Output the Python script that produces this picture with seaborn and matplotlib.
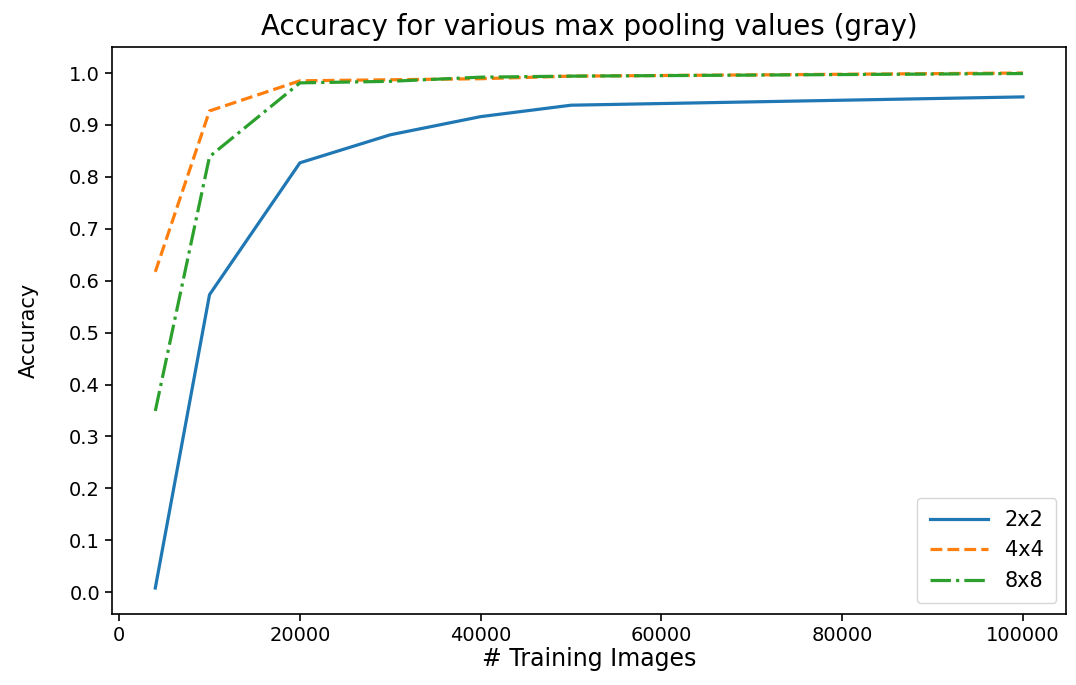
import matplotlib
matplotlib.use("Agg")
from matplotlib import pyplot as plt
import pandas as pd
import seaborn as sns

# training set sizes
n_images = [4000, 10000, 20000, 30000, 40000, 50000, 100000]

# accuracy per pooling size
acc_2x2 = [0.008, 0.573, 0.827, 0.881, 0.916, 0.938, 0.954]
acc_4x4 = [0.617, 0.927, 0.985, 0.987, 0.989, 0.994, 1.000]
acc_8x8 = [0.349, 0.839, 0.981, 0.984, 0.992, 0.994, 0.999]

pool_labels = ["2x2", "4x4", "8x8"]

df = pd.DataFrame({
    "# Training Images": n_images * 3,
    "Accuracy": acc_2x2 + acc_4x4 + acc_8x8,
    "pool": [p for p in pool_labels for _ in n_images],
})

plt.rcParams["font.family"] = ["DejaVu Sans"]

f, ax = plt.subplots(figsize=(10.76, 6.85), dpi=100)
f.subplots_adjust(left=0.104, right=0.991, top=0.931, bottom=0.104)

ax = sns.lineplot(data=df, x="# Training Images", y="Accuracy",
                  hue="pool", style="pool",
                  palette=["#1f77b4", "#ff7f0e", "#2ca02c"],
                  dashes=["", (3.7, 1.6), (6.4, 1.6, 1, 1.6)],
                  linewidth=2.3, ax=ax)

ax.set_title("Accuracy for various max pooling values (gray)", fontsize=20, pad=9)
ax.set_xlabel("# Training Images", fontsize=17, labelpad=2)
ax.set_ylabel("Accuracy", fontsize=15, labelpad=22)
ax.set_yticks([i / 10 for i in range(11)])
ax.tick_params(labelsize=14, length=5, width=1.2)
for s in ax.spines.values():
    s.set_linewidth(1.2)

sns.move_legend(ax, "lower right", title=None, fontsize=15,
                handlelength=2.8, borderpad=0.6, labelspacing=0.5)

plt.savefig("out.png", dpi=100)
